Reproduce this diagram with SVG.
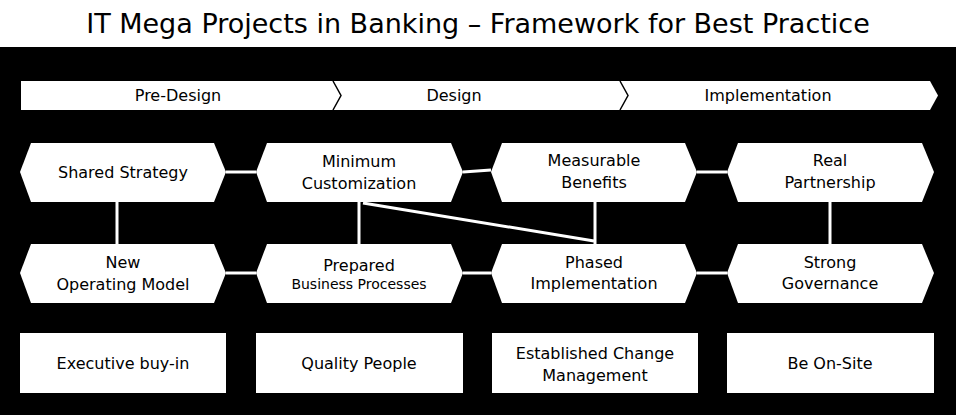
<svg xmlns="http://www.w3.org/2000/svg" width="956" height="415" viewBox="0 0 956 415">
<style>
text{font-family:"DejaVu Sans",Verdana,sans-serif;fill:#000;text-anchor:middle}
.n{fill:#fff}
.t{font-size:16px}
.c{stroke:#fff;stroke-width:3;fill:none}
</style>
<rect width="956" height="415" fill="#000"/>
<rect width="956" height="47" fill="#fff"/>
<text x="478" y="33" style="font-size:27px">IT Mega Projects in Banking – Framework for Best Practice</text>
<g id="phases">
<polygon class="n" points="21,81 930,81 938,95.5 930,110 21,110"/>
<polyline points="333,81 341,95.5 333,110" stroke="#000" stroke-width="1.5" fill="none"/>
<polyline points="620,81 628,95.5 620,110" stroke="#000" stroke-width="1.5" fill="none"/>
<text class="t" x="178" y="101">Pre-Design</text>
<text class="t" x="454" y="101">Design</text>
<text class="t" x="768" y="101">Implementation</text>
</g>
<g id="connectors">
<line class="c" x1="226" y1="172" x2="256" y2="172"/>
<line class="c" x1="463" y1="172" x2="491" y2="170"/>
<line class="c" x1="697" y1="172" x2="727" y2="172"/>
<line class="c" x1="226" y1="273" x2="256" y2="273"/>
<line class="c" x1="463" y1="273" x2="491" y2="273"/>
<line class="c" x1="697" y1="273" x2="727" y2="273"/>
<line class="c" x1="117" y1="202" x2="117" y2="244"/>
<line class="c" x1="359" y1="202" x2="359" y2="244"/>
<line class="c" x1="595" y1="202" x2="595" y2="244"/>
<line class="c" x1="830" y1="202" x2="830" y2="244"/>
<line class="c" x1="363" y1="203" x2="594" y2="241"/>
</g>
<g id="shared-strategy"><polygon class="n" points="20,172 31,143 214,143 226,172 214,202 31,202"/><text class="t" x="123" y="178">Shared Strategy</text></g>
<g id="minimum-customization"><polygon class="n" points="256,172 267,143 451,143 463,172 451,202 267,202"/><text class="t" x="359" y="167">Minimum</text><text class="t" x="359" y="189">Customization</text></g>
<g id="measurable-benefits"><polygon class="n" points="491,172 502,143 685,143 697,172 685,202 502,202"/><text class="t" x="594" y="166">Measurable</text><text class="t" x="594" y="188">Benefits</text></g>
<g id="real-partnership"><polygon class="n" points="727,172 738,143 922,143 934,172 922,202 738,202"/><text class="t" x="830" y="166">Real</text><text class="t" x="830" y="188">Partnership</text></g>
<g id="new-operating-model"><polygon class="n" points="20,273 31,244 214,244 226,273 214,303 31,303"/><text class="t" x="123" y="268">New</text><text class="t" x="123" y="290">Operating Model</text></g>
<g id="prepared-business-processes"><polygon class="n" points="256,273 267,244 451,244 463,273 451,303 267,303"/><text class="t" x="359" y="271">Prepared</text><text x="359" y="289" style="font-size:14px">Business Processes</text></g>
<g id="phased-implementation"><polygon class="n" points="491,273 502,244 685,244 697,273 685,303 502,303"/><text class="t" x="594" y="268">Phased</text><text class="t" x="594" y="289">Implementation</text></g>
<g id="strong-governance"><polygon class="n" points="727,273 738,244 922,244 934,273 922,303 738,303"/><text class="t" x="830" y="268">Strong</text><text class="t" x="830" y="289">Governance</text></g>
<g id="executive-buy-in"><rect class="n" x="20" y="333" width="206" height="60"/><text class="t" x="123" y="369">Executive buy-in</text></g>
<g id="quality-people"><rect class="n" x="256" y="333" width="207" height="60"/><text class="t" x="359" y="369">Quality People</text></g>
<g id="change-management"><rect class="n" x="492" y="333" width="206" height="60"/><text class="t" x="595" y="359">Established Change</text><text class="t" x="595" y="381">Management</text></g>
<g id="be-on-site"><rect class="n" x="727" y="333" width="207" height="60"/><text class="t" x="830" y="369">Be On-Site</text></g>
</svg>
